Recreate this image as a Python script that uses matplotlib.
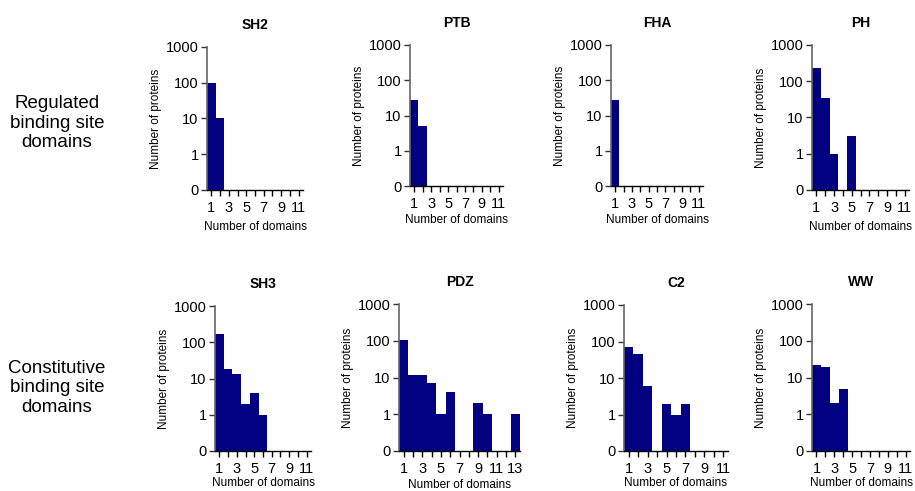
import numpy as np
import matplotlib
matplotlib.use('Agg')
import matplotlib.pyplot as plt
from matplotlib.ticker import FixedLocator, NullLocator

plt.rcParams['font.family'] = ['Liberation Sans', 'DejaVu Sans']

# domain counts (index = number of domains, starting at 1) -> number of proteins
titles = ["SH2", "PTB", "FHA", "PH", "SH3", "PDZ", "C2", "WW"]
sh2 = [100, 10]
ptb = [27, 5]
fha = [28]
ph = [230, 34, 1, 0, 3]
sh3 = [170, 18, 13, 2, 4, 1]
pdz = [105, 12, 12, 7, 1, 4, 0, 0, 2, 1, 0, 0, 1]
c2 = [70, 45, 6, 0, 2, 1, 2]
ww = [22, 19, 2, 5]
values = [sh2, ptb, fha, ph, sh3, pdz, c2, ww]
xmax = [11, 11, 11, 11, 11, 13, 11, 11]
row_labels = ["Regulated\nbinding site\ndomains", "Constitutive\nbinding site\ndomains"]

W, H = 915, 491
fig = plt.figure(figsize=(W / 100, H / 100), dpi=100)

# axes boxes in pixels: (left, top, right, bottom)
boxes = [(207, 47, 303, 190), (410, 45, 503, 186), (611, 45, 703, 186), (812, 45, 909, 190),
         (215, 306, 311, 451), (399, 304, 520, 451), (624, 305, 728, 451), (812, 304, 910, 451)]
xlabel_pads = [4, 2, 2, 4, 1, 2, 1, 1]

bar_color = "#000080"

for i in range(8):
    l, t, r, b = boxes[i]
    ax = fig.add_axes([l / W, 1 - b / H, (r - l) / W, (b - t) / H])
    counts = np.array(values[i], dtype=float)
    x = np.arange(1, len(counts) + 1)
    mask = counts > 0
    ax.bar(x[mask], counts[mask] - 0.1, bottom=0.1, width=1.0, color=bar_color, linewidth=0)
    ax.set_yscale('log')
    ax.set_ylim(0.1, 1000)
    ax.set_xlim(0.5, xmax[i] + 0.5)
    ax.yaxis.set_major_locator(FixedLocator([0.1, 1, 10, 100, 1000]))
    ax.yaxis.set_minor_locator(NullLocator())
    ax.set_yticklabels(["0", "1", "10", "100", "1000"])
    ax.set_xticks(np.arange(1, xmax[i] + 1))
    ax.set_xticklabels([str(k) if k % 2 == 1 else "" for k in range(1, xmax[i] + 1)])
    ax.tick_params(axis='both', labelsize=10.5, length=4, width=1, pad=2)
    ax.tick_params(axis='x', pad=4)
    ax.tick_params(axis='y', colors='#333333', labelcolor='black')
    for s in ['top', 'right']:
        ax.spines[s].set_visible(False)
    ax.spines['left'].set_color('#666666')
    ax.spines['left'].set_linewidth(1.2)
    ax.spines['bottom'].set_linewidth(1.0)
    ax.set_title(titles[i], fontsize=10, fontweight='bold', pad=13)
    ax.set_ylabel("Number of proteins", fontsize=8.5, labelpad=3)
    ax.set_xlabel("Number of domains", fontsize=8.5, labelpad=xlabel_pads[i])

fig.text(57 / W, 1 - 123 / H, row_labels[0], ha='center', va='center', fontsize=13.5, linespacing=1.2)
fig.text(57 / W, 1 - 388 / H, row_labels[1], ha='center', va='center', fontsize=13.5, linespacing=1.2)

fig.savefig("out.png", dpi=100)
